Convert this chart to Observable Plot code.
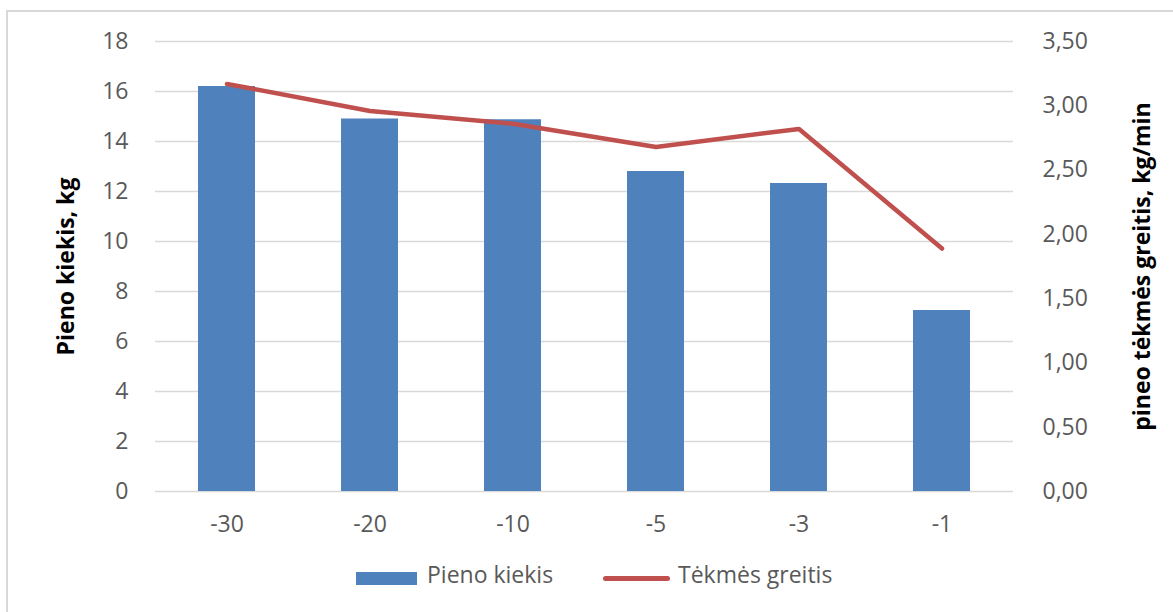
<!DOCTYPE html>
<html>
<head>
<meta charset="utf-8">
<script src="https://cdn.jsdelivr.net/npm/d3@7"></script>
<script src="https://cdn.jsdelivr.net/npm/@observablehq/plot@0.6"></script>
<style>
  body { margin: 0; background: #fff; }
  #chart { position: relative; width: 1173px; height: 612px; overflow: hidden; font-family: "Open Sans", sans-serif; }
  #frame { position: absolute; left: 6px; top: 10px; width: 1200px; height: 700px;
           border-top: 2px solid #d9d9d9; border-left: 2px solid #d9d9d9; box-sizing: border-box; }
  #plot { position: absolute; left: 0; top: 0; }
  .legend-item { position: absolute; font-size: 23px; color: #595959; line-height: 1; white-space: nowrap; }
  .swatch { position: absolute; }
</style>
</head>
<body>
<div id="chart">
  <div id="frame"></div>
  <div id="plot"></div>
  <div class="swatch" id="sw-bar" style="left:356px; top:572px; width:61px; height:13px; background:#4f81bd;"></div>
  <div class="legend-item" id="lg-bar" style="left:427px; top:563px;"></div>
  <div class="swatch" id="sw-line" style="left:603px; top:576px; width:67px; height:5px; border-radius:3px; background:#c0504d;"></div>
  <div class="legend-item" id="lg-line" style="left:678px; top:563px;"></div>
</div>
<script>
// Days before milking end, milk amount (kg) and milk flow rate (kg/min)
const periods = ["-30", "-20", "-10", "-5", "-3", "-1"];
const milkKg = [16.2, 14.9, 14.87, 12.8, 12.32, 7.24];
const flowRate = [3.17, 2.96, 2.86, 2.68, 2.82, 1.89];

const leftTicks = [0, 2, 4, 6, 8, 10, 12, 14, 16, 18];
const rightTicks = [0, 0.5, 1, 1.5, 2, 2.5, 3, 3.5];

const seriesNames = ["Pieno kiekis", "Tėkmės greitis"];
const leftTitle = "Pieno kiekis, kg";
const rightTitle = "pineo tėkmės greitis, kg/min";

const leftMax = 18, rightMax = 3.5;
const k = leftMax / rightMax; // maps the flow-rate axis onto the shared y scale

const rows = periods.map((p, i) => ({ period: p, milk: milkKg[i], rate: flowRate[i] }));

const chart = Plot.plot({
  width: 1173,
  height: 545,
  marginTop: 41,
  marginBottom: 54,
  marginLeft: 155,
  marginRight: 160,
  x: { domain: periods, paddingInner: 0.6, paddingOuter: 0.3, align: 0.5 },
  y: { domain: [0, leftMax] },
  style: { fontFamily: "Open Sans, sans-serif", fontSize: "23px", color: "#595959", background: "transparent", overflow: "visible" },
  marks: [
    Plot.gridY(leftTicks, { stroke: "#d9d9d9", strokeOpacity: 1, strokeWidth: 1.3 }),
    Plot.barY(rows, { x: "period", y: "milk", fill: "#4f81bd" }),
    Plot.lineY(rows, { x: "period", y: d => d.rate * k, stroke: "#c0504d", strokeWidth: 4.5,
                       strokeLinecap: "round", strokeLinejoin: "round" }),
    Plot.axisY(leftTicks, { anchor: "left", tickSize: 0, tickPadding: 27, label: null }),
    Plot.axisY(rightTicks.map(v => v * k), { anchor: "right", tickSize: 0, tickPadding: 29, label: null,
      tickFormat: d => (d / k).toFixed(2).replace(".", ",") }),
    Plot.axisX({ tickSize: 0, tickPadding: 24, label: null }),
    Plot.text([leftTitle], { text: d => d, frameAnchor: "left", dx: -89, rotate: -90, textAnchor: "middle",
      fontWeight: "bold", fill: "#000", fontSize: 23 }),
    Plot.text([rightTitle], { text: d => d, frameAnchor: "right", dx: 129, rotate: -90, textAnchor: "middle",
      fontWeight: "bold", fill: "#000", fontSize: 23 })
  ]
});

document.getElementById("plot").appendChild(chart);
document.getElementById("lg-bar").textContent = seriesNames[0];
document.getElementById("lg-line").textContent = seriesNames[1];
</script>
</body>
</html>
